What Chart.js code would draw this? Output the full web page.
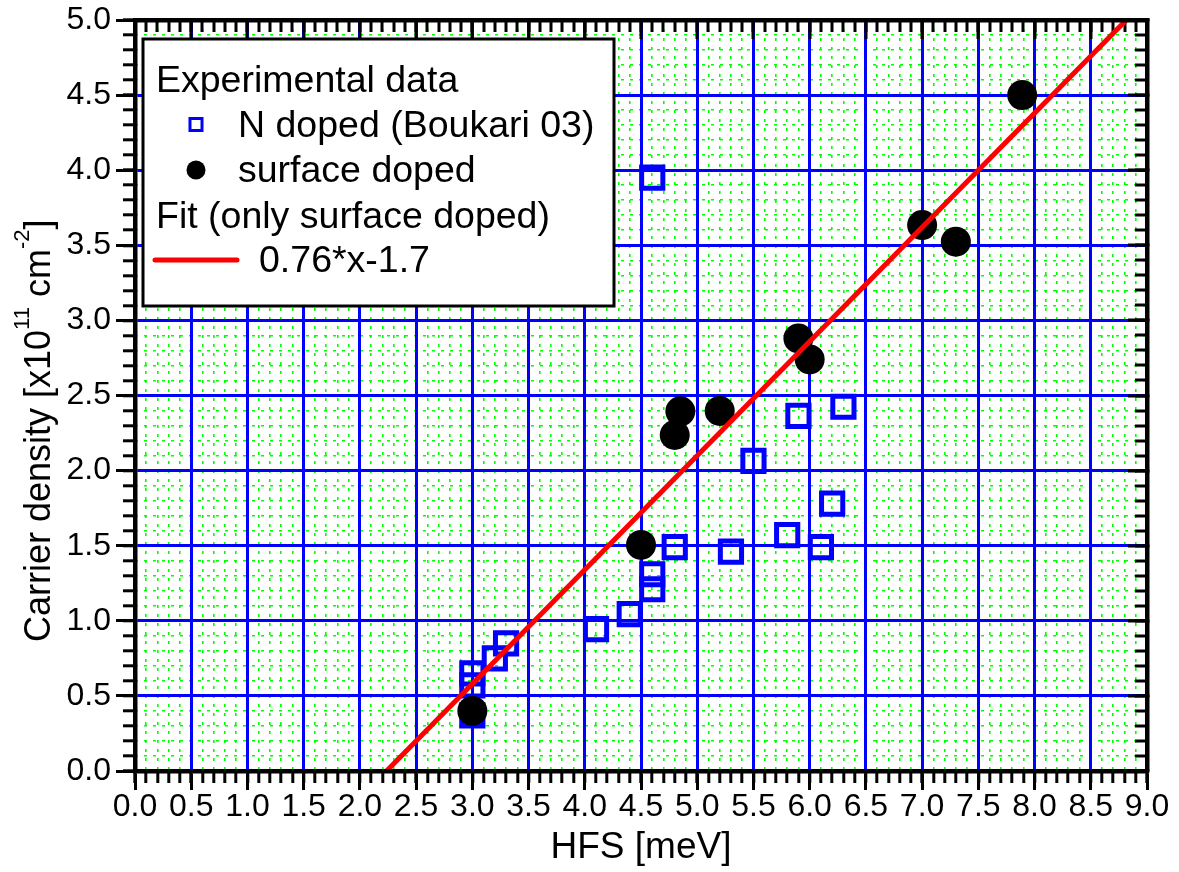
<!DOCTYPE html>
<html>
<head>
<meta charset="utf-8">
<script src="https://cdn.jsdelivr.net/npm/chart.js@4.4.1/dist/chart.umd.min.js"></script>
<style>
html,body{margin:0;padding:0;background:#fff;}
#wrap{width:1179px;height:872px;position:relative;}
canvas{display:block;}
</style>
</head>
<body>
<div id="wrap"><canvas id="c" width="1179" height="872"></canvas></div>
<script>
// ---------- data ----------
const nDopedX = [3.0, 3.0, 3.0, 3.2, 3.3, 4.1, 4.4, 4.6, 4.6, 4.6, 4.8, 5.3, 5.5, 5.8, 5.9, 6.1, 6.2, 6.3];
const nDopedY = [0.37, 0.57, 0.65, 0.75, 0.85, 0.945, 1.045, 1.21, 1.31, 3.95, 1.49, 1.46, 2.065, 1.57, 2.365, 1.49, 1.78, 2.425];
const surfX = [3.0, 4.5, 4.8, 4.85, 5.2, 5.9, 6.0, 7.0, 7.3, 7.89];
const surfY = [0.40, 1.505, 2.237, 2.395, 2.397, 2.88, 2.74, 3.635, 3.524, 4.50];
const fitX = [2.237, 8.816];
const fitY = [0, 5];
const xTickLabels = ['0.0','0.5','1.0','1.5','2.0','2.5','3.0','3.5','4.0','4.5','5.0','5.5','6.0','6.5','7.0','7.5','8.0','8.5','9.0'];
const yTickLabels = ['0.0','0.5','1.0','1.5','2.0','2.5','3.0','3.5','4.0','4.5','5.0'];
const seriesNames = ['N doped (Boukari 03)', 'surface doped', '0.76*x-1.7'];
const legendHeaders = ['Experimental data', 'Fit (only surface doped)'];
const xTitle = 'HFS [meV]';
const yTitleParts = [['Carrier density [x10', false], ['11', true], [' cm', false], ['-2', true], [']', false]];

// ---------- styles ----------
const FONT = '"Liberation Sans", Arial, Helvetica, sans-serif';
const TICK_SIZE = 32, TITLE_SIZE = 37, YTITLE_SIZE = 36, LEGEND_SIZE = 37.5, SUP_SIZE = 22;
const BLUE = '#0000ff', GREEN = '#00ff00', RED = '#ff0000';
const MAJ_TL = 19, MIN_TL = 12, FRAME_W = 4.5;

const toPts = (xs, ys) => xs.map((x, i) => ({x: x, y: ys[i]}));

function fixSize(w, h) {
  return function (s) {
    if (w !== null) s.width = w;
    if (h !== null) s.height = h;
    s.paddingLeft = 0; s.paddingRight = 0; s.paddingTop = 0; s.paddingBottom = 0;
  };
}

function tickOnlyScale(axis, position, step, tl, drawGridLines, gridColor, gridWidth, dash, z, borderShow) {
  const horiz = axis === 'x';
  return {
    type: 'linear', axis: axis, position: position, min: 0, max: axis === 'x' ? 9 : 5, weight: 0,
    ticks: {display: false, stepSize: step, autoSkip: false},
    grid: {display: true, drawOnChartArea: drawGridLines, color: gridColor, lineWidth: gridWidth,
           drawTicks: true, tickLength: tl, tickColor: '#000', tickWidth: 3, z: z},
    border: {display: borderShow, color: '#000', width: FRAME_W, dash: dash, z: 1},
    afterFit: horiz ? fixSize(null, 0) : fixSize(0, null)
  };
}

// ---------- plugins: legend box & y title with superscripts ----------
const legendPlugin = {
  id: 'boxLegend',
  afterDraw(chart) {
    const ctx = chart.ctx;
    const ds = chart.data.datasets;
    ctx.save();
    ctx.fillStyle = '#fff';
    ctx.fillRect(143, 39, 471, 267);
    ctx.lineWidth = 3; ctx.strokeStyle = '#000';
    ctx.strokeRect(143, 39, 471, 267);
    ctx.font = LEGEND_SIZE + 'px ' + FONT;
    ctx.fillStyle = '#000';
    ctx.textAlign = 'left'; ctx.textBaseline = 'alphabetic';
    ctx.fillText(legendHeaders[0], 156, 92);
    ctx.fillText(ds[0].label, 238, 137);
    ctx.fillText(ds[1].label, 238, 182);
    ctx.fillText(legendHeaders[1], 156, 228);
    ctx.fillText(ds[2].label, 259, 272);
    // markers
    const dp = Chart.helpers && Chart.helpers.drawPoint;
    ctx.strokeStyle = BLUE; ctx.lineWidth = 3; ctx.fillStyle = 'rgba(0,0,0,0)';
    if (dp) dp(ctx, {pointStyle: 'rect', radius: 8.5, borderWidth: 3, rotation: 0}, 196, 124.5);
    else ctx.strokeRect(190, 118.5, 12, 12);
    ctx.fillStyle = '#000'; ctx.strokeStyle = '#000';
    if (dp) dp(ctx, {pointStyle: 'circle', radius: 9.5, borderWidth: 0, rotation: 0}, 196, 170);
    else { ctx.beginPath(); ctx.arc(196, 170, 9.5, 0, Math.PI * 2); ctx.fill(); }
    ctx.strokeStyle = RED; ctx.lineWidth = 5; ctx.lineCap = 'round';
    ctx.beginPath(); ctx.moveTo(155, 260); ctx.lineTo(237, 260); ctx.stroke();
    ctx.restore();
  }
};

const yTitlePlugin = {
  id: 'yTitle',
  afterDraw(chart) {
    const ctx = chart.ctx;
    ctx.save();
    ctx.translate(50, 642);
    ctx.rotate(-Math.PI / 2);
    ctx.fillStyle = '#000';
    ctx.textAlign = 'left'; ctx.textBaseline = 'alphabetic';
    let x = 0;
    for (const [t, sup] of yTitleParts) {
      ctx.font = (sup ? SUP_SIZE : YTITLE_SIZE) + 'px ' + FONT;
      ctx.fillText(t, x, sup ? -21 : 0);
      x += ctx.measureText(t).width;
    }
    ctx.restore();
  }
};

// ---------- chart ----------
new Chart(document.getElementById('c'), {
  type: 'scatter',
  data: {
    datasets: [
      {label: seriesNames[0], data: toPts(nDopedX, nDopedY), xAxisID: 'x', yAxisID: 'y',
       pointStyle: 'rect', pointRadius: 15, pointBorderWidth: 5, pointBorderColor: BLUE,
       pointBackgroundColor: 'rgba(0,0,0,0)', showLine: false, order: 2},
      {label: seriesNames[1], data: toPts(surfX, surfY), xAxisID: 'x', yAxisID: 'y',
       pointStyle: 'circle', pointRadius: 15, pointBorderWidth: 0, pointBackgroundColor: '#000',
       pointBorderColor: '#000', showLine: false, order: 1},
      {label: seriesNames[2], data: toPts(fitX, fitY), xAxisID: 'x', yAxisID: 'y',
       showLine: true, borderColor: RED, borderWidth: 5, pointRadius: 0, fill: false,
       tension: 0, clip: 0, order: 0}
    ]
  },
  options: {
    responsive: false, animation: false, devicePixelRatio: 1, events: [],
    layout: {padding: {top: 20, right: 32, bottom: 0, left: 0}},
    plugins: {legend: {display: false}, tooltip: {enabled: false}, title: {display: false}},
    scales: {
      x: {
        type: 'linear', axis: 'x', position: 'bottom', min: 0, max: 9, weight: 1,
        ticks: {stepSize: 0.5, autoSkip: false, maxRotation: 0, minRotation: 0, padding: 0,
                color: '#000', font: {family: FONT, size: TICK_SIZE, lineHeight: 1.1},
                callback: (v, i) => xTickLabels[i]},
        grid: {display: true, drawOnChartArea: true, color: BLUE, lineWidth: 3,
               drawTicks: true, tickLength: MAJ_TL, tickColor: '#000', tickWidth: 3, z: -1},
        border: {display: true, color: '#000', width: FRAME_W, z: 1},
        title: {display: true, text: xTitle, color: '#000',
                font: {family: FONT, size: TITLE_SIZE, lineHeight: 1.2}, padding: {top: 0, bottom: 2}},
        afterFit: fixSize(null, 101)
      },
      y: {
        type: 'linear', axis: 'y', position: 'left', min: 0, max: 5, weight: 1,
        ticks: {stepSize: 0.5, autoSkip: false, padding: 5, color: '#000',
                font: {family: FONT, size: TICK_SIZE, lineHeight: 1.2},
                callback: (v, i) => yTickLabels[i]},
        grid: {display: true, drawOnChartArea: true, color: BLUE, lineWidth: 3,
               drawTicks: true, tickLength: MAJ_TL, tickColor: '#000', tickWidth: 3, z: -1},
        border: {display: true, color: '#000', width: FRAME_W, z: 1},
        afterFit: fixSize(135, null)
      },
      xMinB: tickOnlyScale('x', 'bottom', 0.1, MIN_TL, true, GREEN, 1.6, [3, 6], -2, false),
      yMinL: tickOnlyScale('y', 'left', 0.1, MIN_TL, true, GREEN, 1.6, [3, 6], -2, false),
      xTop: tickOnlyScale('x', 'top', 0.5, -MAJ_TL, false, BLUE, 0, [], 0, true),
      xMinT: tickOnlyScale('x', 'top', 0.1, -MIN_TL, false, GREEN, 0, [], 0, false),
      yRight: tickOnlyScale('y', 'right', 0.5, -MAJ_TL, false, BLUE, 0, [], 0, true),
      yMinR: tickOnlyScale('y', 'right', 0.1, -MIN_TL, false, GREEN, 0, [], 0, false)
    }
  },
  plugins: [yTitlePlugin, legendPlugin]
});
</script>
</body>
</html>
